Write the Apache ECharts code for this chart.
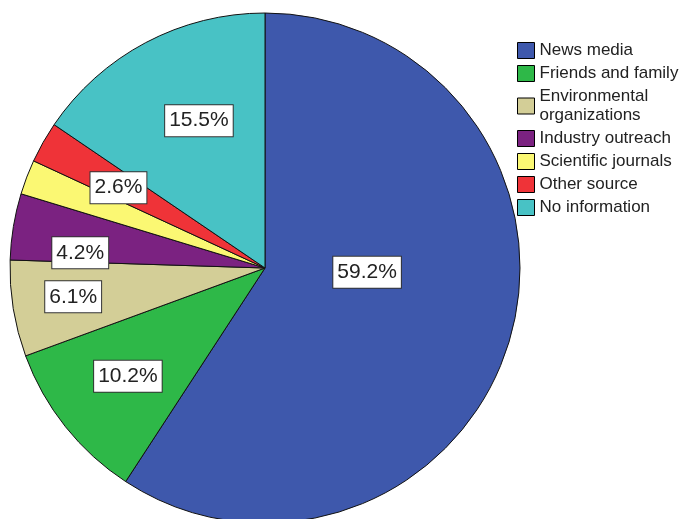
<!DOCTYPE html>
<html>
<head>
<meta charset="utf-8">
<script src="https://cdn.jsdelivr.net/npm/echarts@6/dist/echarts.min.js"></script>
<style>
  html, body { margin: 0; padding: 0; background: #fff; }
  #chart { width: 686px; height: 519px; }
</style>
</head>
<body>
<div id="chart"></div>
<script>
// Sources of information, share of respondents (%)
const categories = ['News media', 'Friends and family', 'Environmental organizations',
  'Industry outreach', 'Scientific journals', 'Other source', 'No information'];
const shares = [59.2, 10.2, 6.1, 4.2, 2.2, 2.6, 15.5];
const showLabel = [true, true, true, true, false, true, true];
const legendNames = ['News media', 'Friends and family', 'Environmental\norganizations',
  'Industry outreach', 'Scientific journals', 'Other source', 'No information'];

const colors = ['#3E58AC', '#2EB848', '#D3CE97', '#7B2281', '#FBF873', '#EF3338', '#48C2C5'];

// nudges of the value boxes away from the default inside position
const labelNudge = [[-23, -33], [-35, 27], [-63, 8], [-56, 6], [0, 0], [-33, -16], [-5, -32]];

const chart = echarts.init(document.getElementById('chart'), null, { renderer: 'canvas' });

chart.setOption({
  animation: false,
  color: colors,
  legend: {
    orient: 'vertical',
    left: 517,
    top: 41,
    padding: 0,
    itemWidth: 17,
    itemHeight: 16,
    itemGap: 4,
    icon: 'rect',
    itemStyle: { borderColor: '#000', borderWidth: 1 },
    formatter: (name) => legendNames[categories.indexOf(name)],
    textStyle: {
      fontFamily: 'Liberation Sans, Arial, sans-serif',
      fontSize: 17,
      color: '#222',
      lineHeight: 19
    },
    data: categories
  },
  series: [{
    type: 'pie',
    center: [265, 268],
    radius: 255,
    startAngle: 90,
    clockwise: true,
    avoidLabelOverlap: false,
    itemStyle: { borderColor: '#111', borderWidth: 1 },
    emphasis: { disabled: true },
    label: {
      position: 'inside',
      formatter: (p) => p.value.toFixed(1) + '%',
      fontFamily: 'Liberation Sans, Arial, sans-serif',
      fontSize: 21,
      color: '#222',
      backgroundColor: '#fff',
      borderColor: '#333',
      borderWidth: 1,
      padding: [6, 4, 4, 4]
    },
    labelLine: { show: false },
    labelLayout: (p) => ({ dx: labelNudge[p.dataIndex][0], dy: labelNudge[p.dataIndex][1] }),
    data: categories.map((c, i) => ({
      name: c,
      value: shares[i],
      label: { show: showLabel[i] }
    }))
  }]
});
</script>
</body>
</html>
